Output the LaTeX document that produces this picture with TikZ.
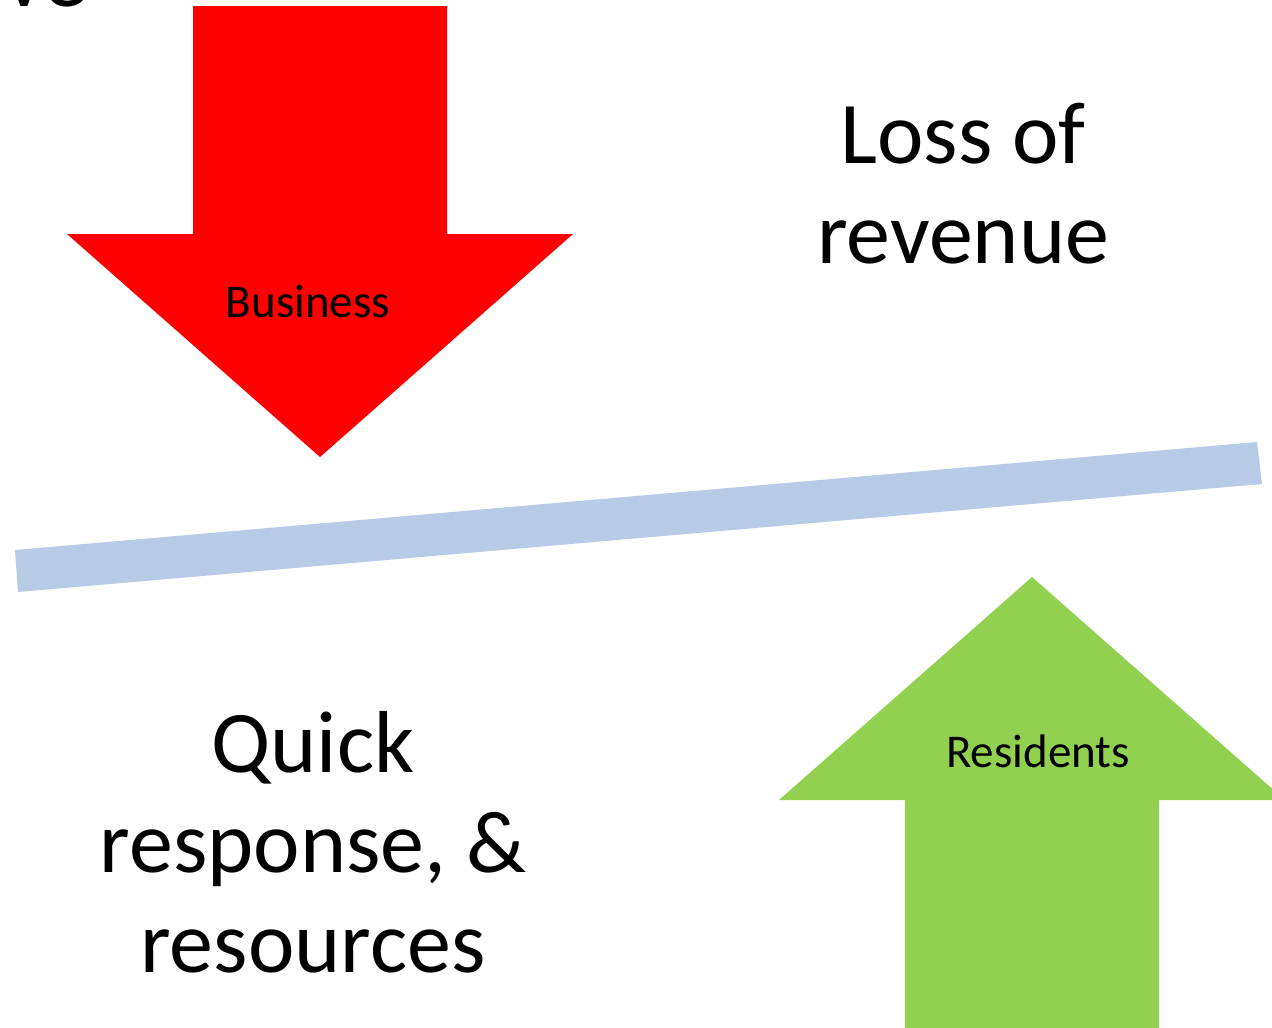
\documentclass[tikz,border=0pt]{standalone}
\usepackage{fontspec}
\setmainfont{Carlito}
\definecolor{arrred}{HTML}{FF0000}
\definecolor{arrgreen}{HTML}{92D050}
\definecolor{barblue}{HTML}{B7CBE6}
\begin{document}
\begin{tikzpicture}[x=1pt,y=-1pt,
  bigtext/.style={font=\fontsize{88}{100}\selectfont, align=center, inner sep=0pt},
  smalltext/.style={font=\fontsize{47}{56}\selectfont, inner sep=0pt}]
\useasboundingbox (0,0) rectangle (1272,1028);
\clip (0,0) rectangle (1272,1028);
\fill[white] (0,0) rectangle (1272,1028);
% red arrow down
\fill[arrred] (193,6) -- (447,6) -- (447,234) -- (573,234) -- (320,457) -- (67,234) -- (193,234) -- cycle;
% green arrow up
\fill[arrgreen] (905,1040) -- (905,800) -- (779,800) -- (1032,577) -- (1285,800) -- (1159,800) -- (1159,1040) -- cycle;
% bar
\fill[barblue] (15,550) -- (1257,442) -- (1262,484) -- (18,592) -- cycle;
% texts
\node[bigtext, anchor=base east] (ve) at (87,6) {ve};
\node[bigtext, anchor=base] (loss) at (963,263) {Loss of\\revenue};
\node[bigtext, anchor=base] (quick) at (313,972) {Quick\\response, \&\\resources};
\node[smalltext, anchor=base] (bus) at (308,317) {Business};
\node[smalltext, anchor=base] (res) at (1038,767) {Residents};
\end{tikzpicture}
\end{document}
